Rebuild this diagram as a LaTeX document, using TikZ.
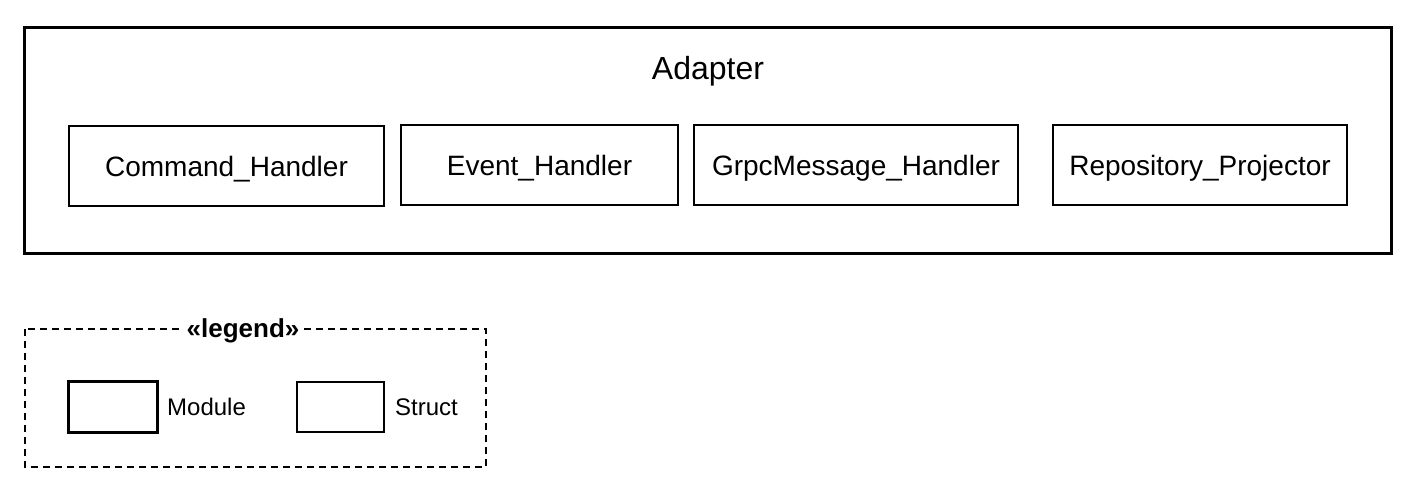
\documentclass[tikz,border=0pt]{standalone}
\usepackage{fontspec}
\setmainfont{Liberation Sans}
\begin{document}
\begin{tikzpicture}[x=1pt,y=-1pt,
  modbox/.style={draw=black,line width=3pt},
  structbox/.style={draw=black,line width=1.2pt,minimum height=80pt,inner sep=0pt,text depth=0pt,font=\fontsize{28}{32}\selectfont},
  legbox/.style={draw=black,line width=1.5pt,dash pattern=on 7pt off 5pt},
  legtext/.style={font=\fontsize{24}{28}\selectfont,anchor=west,inner sep=0pt}]
\useasboundingbox (0,0) rectangle (1422,486);
% Outer module
\draw[modbox] (24,28) rectangle (1391,254);
\node[font=\fontsize{32}{36}\selectfont,text depth=0pt] (adapter) at (708,68) {Adapter};
\node[structbox,minimum width=315pt] (cmd) at (226.5,166) {Command\_Handler};
\node[structbox,minimum width=277pt] (evt) at (539.5,165) {Event\_Handler};
\node[structbox,minimum width=324pt] (grpc) at (856,165) {GrpcMessage\_Handler};
\node[structbox,minimum width=294pt] (repo) at (1200,165) {Repository\_Projector};
% Legend
\draw[legbox] (25,329) rectangle (486,467);
\node[fill=white,font=\bfseries\fontsize{26}{30}\selectfont,inner xsep=4pt,inner ysep=0pt] (legtitle) at (243,331) {«legend»};
\draw[line width=3pt] (68,381) rectangle (157,432);
\node[legtext] (modlbl) at (167,407) {Module};
\draw[line width=1.2pt] (297,382) rectangle (384,432);
\node[legtext] (structlbl) at (395,407) {Struct};
\end{tikzpicture}
\end{document}
